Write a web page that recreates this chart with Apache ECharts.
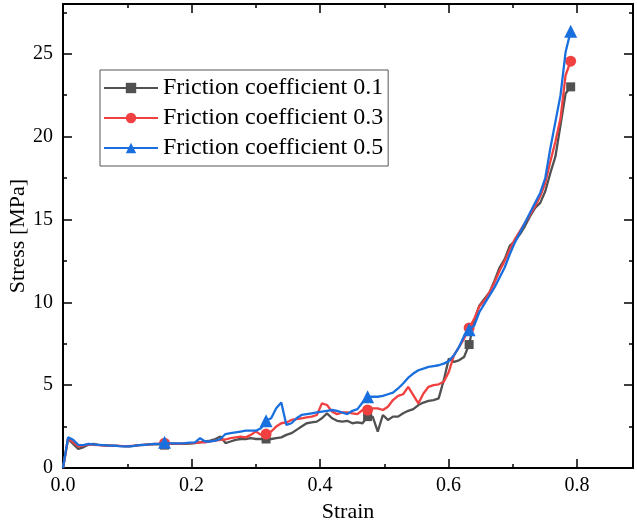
<!DOCTYPE html>
<html>
<head>
<meta charset="utf-8">
<script src="https://cdn.jsdelivr.net/npm/echarts@6/dist/echarts.min.js"></script>
<style>html,body{margin:0;padding:0;background:#fff;}#c{width:637px;height:528px;}</style>
</head>
<body>
<div id="c"></div>
<script>
const strain = [0, 0.0079, 0.0158, 0.0237, 0.0316, 0.0395, 0.0474, 0.0553, 0.0632, 0.0711,
0.079, 0.0869, 0.0948, 0.1027, 0.1106, 0.1185, 0.1264, 0.1343, 0.1422, 0.1501,
0.158, 0.1659, 0.1738, 0.1817, 0.1896, 0.1975, 0.2054, 0.2133, 0.2212, 0.2291,
0.237, 0.2449, 0.2528, 0.2607, 0.2686, 0.2765, 0.2844, 0.2923, 0.3002, 0.3081,
0.316, 0.3239, 0.3318, 0.3397, 0.3476, 0.3555, 0.3634, 0.3713, 0.3792, 0.3871,
0.395, 0.4029, 0.4108, 0.4187, 0.4266, 0.4345, 0.4424, 0.4503, 0.4582, 0.4661,
0.474, 0.4819, 0.4898, 0.4977, 0.5056, 0.5135, 0.5214, 0.5293, 0.5372, 0.5451,
0.553, 0.5609, 0.5688, 0.5767, 0.5846, 0.5925, 0.6004, 0.6083, 0.6162, 0.6241,
0.632, 0.6399, 0.6478, 0.6557, 0.6636, 0.6715, 0.6794, 0.6873, 0.6952, 0.7031,
0.711, 0.7189, 0.7268, 0.7347, 0.7426, 0.7505, 0.7584, 0.7663, 0.7742, 0.7821,
0.79];

const stress01 = [0, 1.75, 1.45, 1.15, 1.25, 1.4, 1.45, 1.4, 1.38, 1.36,
1.35, 1.33, 1.32, 1.3, 1.33, 1.38, 1.4, 1.42, 1.42, 1.42,
1.38, 1.45, 1.45, 1.45, 1.45, 1.47, 1.5, 1.55, 1.6, 1.65,
1.75, 1.9, 1.5, 1.6, 1.7, 1.75, 1.75, 1.8, 1.75, 1.75,
1.75, 1.75, 1.8, 1.85, 2.0, 2.1, 2.3, 2.5, 2.7, 2.75,
2.8, 3.0, 3.3, 3.0, 2.85, 2.8, 2.85, 2.7, 2.75, 2.7,
3.1, 3.1, 2.2, 3.2, 2.9, 3.1, 3.1, 3.3, 3.45, 3.55,
3.8, 3.95, 4.05, 4.1, 4.2, 5.3, 6.6, 6.4, 6.5, 6.7,
7.45, 8.9, 9.8, 10.2, 10.6, 11.3, 12.1, 12.6, 13.4, 13.7,
14.1, 14.6, 15.2, 15.7, 16.0, 16.7, 17.8, 18.8, 20.7, 22.6,
23.0];

const stress03 = [0, 1.8, 1.55, 1.3, 1.35, 1.42, 1.4, 1.38, 1.35, 1.35,
1.33, 1.33, 1.32, 1.32, 1.35, 1.38, 1.4, 1.42, 1.45, 1.46,
1.5, 1.47, 1.47, 1.45, 1.48, 1.5, 1.52, 1.55, 1.55, 1.6,
1.65, 1.7, 1.72, 1.8, 1.85, 1.9, 1.85, 2.0, 2.2, 2.0,
2.05, 2.2, 2.5, 2.7, 2.75, 2.9, 2.95, 3.0, 3.05, 3.1,
3.2, 3.9, 3.8, 3.4, 3.25, 3.35, 3.35, 3.3, 3.25, 3.5,
3.5, 3.6, 3.6, 3.5, 3.7, 4.1, 4.35, 4.45, 4.9, 4.4,
3.9, 4.5, 4.9, 5.0, 5.05, 5.2, 5.8, 6.8, 7.3, 7.8,
8.45, 9.0, 9.75, 10.1, 10.6, 11.2, 11.9, 12.5, 13.2, 13.8,
14.3, 14.8, 15.3, 15.8, 16.4, 17.2, 18.5, 19.7, 21.1, 23.7,
24.55];

const stress05 = [0, 1.85, 1.7, 1.4, 1.38, 1.45, 1.42, 1.4, 1.38, 1.35,
1.35, 1.32, 1.3, 1.3, 1.33, 1.38, 1.4, 1.42, 1.45, 1.46,
1.55, 1.5, 1.48, 1.48, 1.5, 1.53, 1.55, 1.8, 1.6, 1.6,
1.65, 1.75, 2.05, 2.1, 2.15, 2.2, 2.25, 2.25, 2.25, 2.4,
2.85, 3.0, 3.6, 3.95, 2.6, 2.7, 3.0, 3.2, 3.25, 3.3,
3.35, 3.4, 3.45, 3.5, 3.45, 3.35, 3.25, 3.45, 3.55, 3.95,
4.3, 4.3, 4.3, 4.35, 4.45, 4.55, 4.8, 5.1, 5.45, 5.7,
5.9, 6.0, 6.1, 6.15, 6.2, 6.3, 6.45, 6.8, 7.3, 7.95,
8.35, 8.6, 9.4, 9.9, 10.4, 10.9, 11.5, 12.1, 12.9, 13.6,
14.2, 14.8, 15.4, 16.0, 16.6, 17.5, 19.3, 20.9, 22.5, 25.1,
26.35];

const markerIdx = [20, 40, 60, 80, 100];
const seriesNames = ['Friction coefficient 0.1', 'Friction coefficient 0.3', 'Friction coefficient 0.5'];
const seriesColors = ['#515151', '#F14040', '#1A6FDF'];
const seriesSymbols = ['rect', 'circle', 'triangle'];
const symbolSizes = [9, 11, 13];
const seriesValues = [stress01, stress03, stress05];

const xTicksMajor = 0.2, xTicksMinor = 0.1, xMax = 0.887;
const yTicksMajor = 5, yTicksMinor = 2.5, yMax = 28;

const FONT = 'Liberation Serif';

function buildData(vals) {
  return strain.map((x, i) => {
    const item = { value: [x, vals[i]] };
    if (markerIdx.indexOf(i) < 0) item.symbol = 'none';
    return item;
  });
}

function xAx(pos, interval, len, label, line, extra) {
  return Object.assign({
    type: 'value', position: pos, min: 0, max: xMax, interval: interval,
    axisLine: { show: line, onZero: false, lineStyle: { color: '#000', width: 2 } },
    axisTick: { show: true, inside: true, length: len, lineStyle: { color: '#000', width: 1.5 } },
    axisLabel: { show: label, fontFamily: FONT, fontSize: 20, color: '#000', margin: 8,
      showMaxLabel: false, formatter: v => v.toFixed(1) },
    splitLine: { show: false }
  }, extra || {});
}
function yAx(pos, interval, len, label, line, extra) {
  return Object.assign({
    type: 'value', position: pos, min: 0, max: yMax, interval: interval,
    axisLine: { show: line, onZero: false, lineStyle: { color: '#000', width: 2 } },
    axisTick: { show: true, inside: true, length: len, lineStyle: { color: '#000', width: 1.5 } },
    axisLabel: { show: label, fontFamily: FONT, fontSize: 20, color: '#000', margin: 10,
      showMaxLabel: false },
    splitLine: { show: false }
  }, extra || {});
}

const chart = echarts.init(document.getElementById('c'), null, { renderer: 'canvas' });
chart.setOption({
  animation: false,
  backgroundColor: '#fff',
  grid: { left: 63, right: 4, top: 4, bottom: 60, containLabel: false, outerBoundsMode: 'none' },
  xAxis: [
    xAx('bottom', xTicksMajor, 9, true, true, {
      name: 'Strain', nameLocation: 'middle', nameGap: 33, nameMoveOverlap: false,
      nameTextStyle: { fontFamily: FONT, fontSize: 22, color: '#000' } }),
    xAx('bottom', xTicksMinor, 4, false, false),
    xAx('top', xTicksMajor, 9, false, true),
    xAx('top', xTicksMinor, 4, false, false)
  ],
  yAxis: [
    yAx('left', yTicksMajor, 9, true, true, {
      name: 'Stress [MPa]', nameLocation: 'middle', nameGap: 34, nameMoveOverlap: false,
      nameTextStyle: { fontFamily: FONT, fontSize: 22, color: '#000' } }),
    yAx('left', yTicksMinor, 4, false, false),
    yAx('right', yTicksMajor, 9, false, true),
    yAx('right', yTicksMinor, 4, false, false)
  ],
  legend: {
    left: 100, top: 70, orient: 'vertical',
    padding: [6, 5, 6, 3],
    itemWidth: 54, itemHeight: 13, itemGap: 6,
    borderColor: '#555', borderWidth: 1, backgroundColor: '#fff',
    selectedMode: false,
    textStyle: { fontFamily: FONT, fontSize: 24, color: '#000', lineHeight: 23 },
    data: seriesNames
  },
  series: seriesNames.map((name, k) => ({
    name: name, type: 'line', xAxisIndex: 0, yAxisIndex: 0,
    data: buildData(seriesValues[k]),
    symbol: seriesSymbols[k], symbolSize: symbolSizes[k],
    showAllSymbol: true,
    color: seriesColors[k],
    lineStyle: { color: seriesColors[k], width: 2.3 },
    itemStyle: { color: seriesColors[k] },
    z: 2 + k
  }))
});
</script>
</body>
</html>
